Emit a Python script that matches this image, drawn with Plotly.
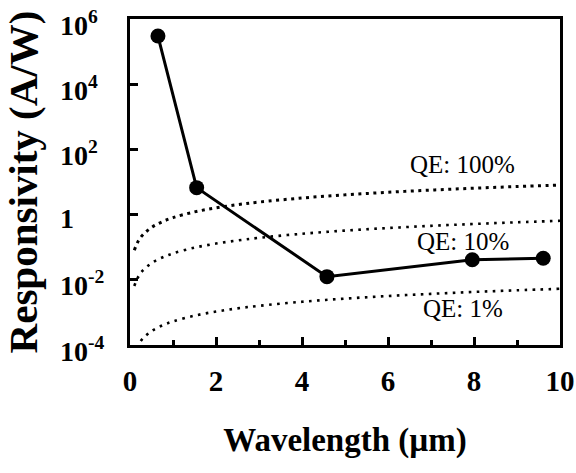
import plotly.graph_objects as go

# Measured responsivity data
wavelength = [0.65, 1.55, 4.58, 7.96, 9.61]
responsivity = [3.0e5, 6.7, 0.0125, 0.041, 0.046]

# Reference quantum-efficiency curves
qe_x = [0.1, 0.2, 0.3, 0.5, 0.75, 1.0, 1.5, 2, 2.5, 3, 4, 5, 6, 7, 8, 9, 10]
qe100 = [0.081, 0.161, 0.242, 0.403, 0.605, 0.806, 1.21, 1.61, 2.02, 2.42,
         3.23, 4.03, 4.84, 5.65, 6.45, 7.26, 8.06]
qe10 = [0.00645, 0.0129, 0.0194, 0.0323, 0.0484, 0.0645, 0.0968, 0.129, 0.161,
        0.194, 0.258, 0.323, 0.387, 0.452, 0.516, 0.581, 0.645]
qe1_x = [0.25, 0.3, 0.5, 0.75, 1, 1.5, 2, 2.5, 3, 4, 5, 6, 7, 8, 9, 10]
qe1 = [0.000133, 0.000159, 0.000265, 0.000398, 0.00053, 0.000795, 0.00106,
       0.00133, 0.00159, 0.00212, 0.00265, 0.00318, 0.00371, 0.00424,
       0.00477, 0.0053]

x_ticks = [0, 2, 4, 6, 8, 10]
y_tick_exp = [-4, -2, 0, 2, 4, 6]
y_ticktext = ["10<sup>-4</sup>", "10<sup>-2</sup>", "1", "10<sup>2</sup>",
              "10<sup>4</sup>", "10<sup>6</sup>"]

qe_labels = ["QE: 100%", "QE: 10%", "QE: 1%"]
qe_label_x = [7.74, 7.74, 7.74]
qe_label_y = [1.55, -0.84, -2.87]  # log10 positions

SERIF = "Liberation Serif"

fig = go.Figure()
fig.add_trace(go.Scatter(x=qe_x, y=qe100, mode="lines", line_shape="spline",
                         line=dict(color="black", width=3, dash="3px,4.5px"),
                         showlegend=False, hoverinfo="skip"))
fig.add_trace(go.Scatter(x=qe_x, y=qe10, mode="lines", line_shape="spline",
                         line=dict(color="black", width=2.6, dash="2.6px,5.4px"),
                         showlegend=False, hoverinfo="skip"))
fig.add_trace(go.Scatter(x=qe1_x, y=qe1, mode="lines", line_shape="spline",
                         line=dict(color="black", width=2.6, dash="2.6px,5.4px"),
                         showlegend=False, hoverinfo="skip"))
fig.add_trace(go.Scatter(x=wavelength, y=responsivity, mode="lines+markers",
                         line=dict(color="black", width=3),
                         marker=dict(color="black", size=15),
                         showlegend=False))

for t, xx, yy in zip(qe_labels, qe_label_x, qe_label_y):
    fig.add_annotation(x=xx, y=yy, text=t, showarrow=False,
                       font=dict(family=SERIF, size=25, color="black"))

# y tick labels, left-aligned as in the reference
for e, t in zip(y_tick_exp, y_ticktext):
    fig.add_annotation(xref="paper", x=-0.168, xanchor="left",
                       yref="y", y=e, yanchor="middle", yshift=-4,
                       text="<b>" + t + "</b>", showarrow=False,
                       font=dict(family=SERIF, size=28, color="black"))

fig.update_layout(
    width=576, height=473,
    margin=dict(l=130, r=16, t=19, b=128),
    paper_bgcolor="white", plot_bgcolor="white",
    font=dict(family=SERIF, color="black"),
)
fig.update_xaxes(
    automargin=False,
    range=[0, 10], tickvals=x_ticks, ticktext=[str(v) for v in x_ticks],
    ticks="inside", ticklen=8, tickwidth=3, tickcolor="black",
    minor=dict(dtick=1, ticks="inside", ticklen=5, tickwidth=3, tickcolor="black"),
    showline=True, linewidth=3, linecolor="black", mirror=True,
    showgrid=False, zeroline=False, ticklabelstandoff=8,
    tickfont=dict(family=SERIF, size=29, color="black", weight="bold"),
    title=dict(text="<b>Wavelength (µm)</b>", standoff=33,
               font=dict(family=SERIF, size=33, color="black")),
)
fig.update_yaxes(
    automargin=False,
    type="log", range=[-4, 6], tickvals=[10.0 ** e for e in y_tick_exp],
    showticklabels=False,
    ticks="inside", ticklen=8, tickwidth=3, tickcolor="black",
    showline=True, linewidth=3, linecolor="black", mirror=True,
    showgrid=False, zeroline=False,
    title=dict(text="<b>Responsivity (A/W)</b>", standoff=77,
               font=dict(family=SERIF, size=41, color="black")),
)
fig.write_html("out.html",
               config={"displayModeBar": False},
               post_script="document.body.style.margin='0';"
                           "document.body.style.overflow='hidden';")
